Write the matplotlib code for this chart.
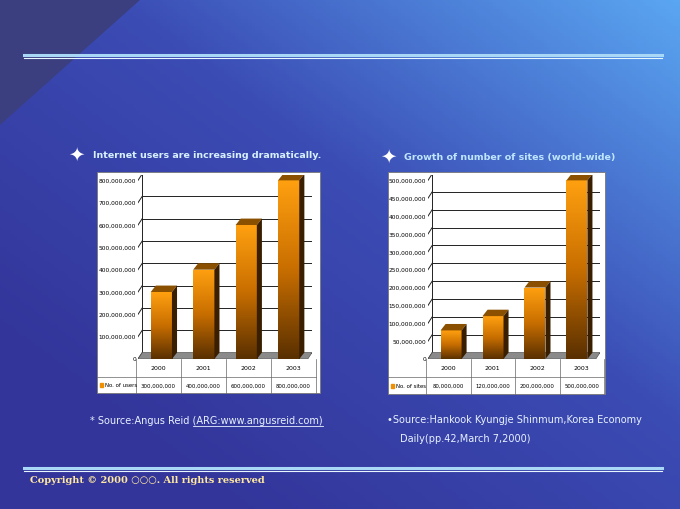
import numpy as np
import matplotlib.pyplot as plt
from matplotlib.patches import Polygon, Rectangle
from matplotlib.colors import LinearSegmentedColormap

years = ['2000', '2001', '2002', '2003']
users = [300000000, 400000000, 600000000, 800000000]
sites = [80000000, 120000000, 200000000, 500000000]
user_ticks = np.arange(0, 800000001, 100000000)
site_ticks = np.arange(0, 500000001, 50000000)

fig = plt.figure(figsize=(6.8, 5.1), dpi=100)
bg = fig.add_axes([0, 0, 1, 1])
bg.set_xlim(0, 680)
bg.set_ylim(510, 0)
bg.axis('off')

# background gradient: dark bottom-left -> light top-right
xx, yy = np.meshgrid(np.linspace(0, 1, 200), np.linspace(0, 1, 150))
t = np.clip(0.6 * xx + 0.6 * (1 - yy) - 0.2, 0, 1)
bg_cmap = LinearSegmentedColormap.from_list('bgc', ['#33359a', '#3b4cb4', '#5aa6f2'])
bg.imshow(t, cmap=bg_cmap, extent=[0, 680, 510, 0], aspect='auto', zorder=0)
bg.add_patch(Polygon([[0, 0], [140, 0], [0, 125]], color='#3b3f80', zorder=1))

# separator lines
for y in (56, 469):
    bg.plot([24, 662], [y, y], color='#a8d8f5', lw=2.2, zorder=2)
    bg.plot([24, 662], [y + 2.5, y + 2.5], color='#e8f6ff', lw=0.8, zorder=2)

bar_cmap = LinearSegmentedColormap.from_list('bar', ['#5a3000', '#c86e00', '#ffa010'])


def draw_chart(box, plot, vals, ticks, label, valtxt):
    bx0, by0, bx1, by1 = box
    bg.add_patch(Rectangle((bx0, by0), bx1 - bx0, by1 - by0, facecolor='white',
                           edgecolor='#777777', lw=0.6, zorder=3))
    px0, py0, px1, py1 = plot
    ax = fig.add_axes([px0 / 680, 1 - py1 / 510, (px1 - px0) / 680, (py1 - py0) / 510])
    ax.set_xlim(-0.55, 3.55)
    ymax = ticks[-1] * 1.03
    ax.axis('off')
    dx = 0.12
    dy = ymax * 0.035
    # floor
    ax.add_patch(Polygon([[-0.55, 0], [3.45, 0], [3.55, dy], [-0.45, dy]],
                         facecolor='#8a8a8a', edgecolor='#555555', lw=0.5, zorder=1))
    for v in ticks:
        ax.plot([-0.45, 3.55], [v + dy, v + dy], color='#222222', lw=0.7, zorder=0)
        ax.plot([-0.55, -0.45], [v, v + dy], color='#222222', lw=0.7, zorder=0)
        bg.text(px0 - 2, py1 - (py1 - py0) * v / ymax, f'{v:,}', fontsize=4.2,
                ha='right', va='center', zorder=4)
    ax.plot([-0.45, -0.45], [dy, ticks[-1] + dy], color='#222222', lw=0.7, zorder=0)
    w = 0.5
    grad = np.linspace(0, 1, 100).reshape(-1, 1)
    for i, v in enumerate(vals):
        x0 = i - w / 2
        im = ax.imshow(grad, cmap=bar_cmap, extent=[x0, x0 + w, 0, v],
                       origin='lower', aspect='auto', zorder=3)
        rect = Rectangle((x0, 0), w, v, transform=ax.transData)
        im.set_clip_path(rect)
        ax.add_patch(Polygon([[x0, v], [x0 + w, v], [x0 + w + dx, v + dy], [x0 + dx, v + dy]],
                             facecolor='#8a5000', edgecolor='none', zorder=3))
        ax.add_patch(Polygon([[x0 + w, 0], [x0 + w + dx, dy], [x0 + w + dx, v + dy], [x0 + w, v]],
                             facecolor='#3a1e00', edgecolor='none', zorder=3))
    ax.set_xlim(-0.55, 3.55)
    ax.set_ylim(0, ymax)
    # data table
    r0, r1 = py1, py1 + 18
    cols = np.linspace(px0 - 2, px1 + 4, 5)
    for c in cols:
        bg.plot([c, c], [r0, by1], color='#666666', lw=0.5, zorder=4)
    bg.plot([bx0, px1 + 4], [r1, r1], color='#666666', lw=0.5, zorder=4)
    for i in range(4):
        cx = (cols[i] + cols[i + 1]) / 2
        bg.text(cx, (r0 + r1) / 2, years[i], fontsize=4.5, ha='center', va='center', zorder=5)
        bg.text(cx, (r1 + by1) / 2, valtxt[i], fontsize=3.9, ha='center', va='center', zorder=5)
    bg.add_patch(Rectangle((bx0 + 3, (r1 + by1) / 2 - 2), 3, 4, color='#f09000', zorder=5))
    bg.text(bx0 + 8, (r1 + by1) / 2, label, fontsize=3.9, ha='left', va='center', zorder=5)


draw_chart((97, 173, 320, 394), (138, 176, 312, 360), users, user_ticks, 'No. of users',
           [f'{v:,}' for v in users])
draw_chart((388, 173, 605, 395), (428, 176, 600, 360), sites, site_ticks, 'No. of sites',
           [f'{v:,}' for v in sites])

bg.text(68, 155, '✦', fontsize=14, color='white', ha='left', va='center', zorder=5)
bg.text(93, 156, 'Internet users are increasing dramatically.', fontsize=6.8,
        color='#d8f0ff', fontweight='bold', ha='left', va='center', zorder=5)
bg.text(380, 157, '✦', fontsize=14, color='white', ha='left', va='center', zorder=5)
bg.text(404, 158, 'Growth of number of sites (world-wide)', fontsize=6.8,
        color='#bfe6ff', fontweight='bold', ha='left', va='center', zorder=5)

src = bg.text(90, 421, '* Source:Angus Reid (ARG:www.angusreid.com)', fontsize=7,
              color='#e8f2ff', ha='left', va='center', zorder=5)
pre = bg.text(90, 421, '* Source:Angus Reid (', fontsize=7, alpha=0, ha='left', va='center')
fig.canvas.draw()
inv = bg.transData.inverted()
e_all = src.get_window_extent()
e_pre = pre.get_window_extent()
ux0 = inv.transform((e_pre.x1, 0))[0]
ux1 = inv.transform((e_all.x1, 0))[0]
bg.plot([ux0 - 3, ux1], [427, 427], color='#e8f2ff', lw=0.6, zorder=5)

bg.text(387, 420, '•Source:Hankook Kyungje Shinmum,Korea Economy', fontsize=7,
        color='#e8f2ff', ha='left', va='center', zorder=5)
bg.text(400, 439, 'Daily(pp.42,March 7,2000)', fontsize=7, color='#e8f2ff',
        ha='left', va='center', zorder=5)

bg.text(30, 481, 'Copyright © 2000 ○○○. All rights reserved', fontsize=7,
        color='#ffe9a0', fontweight='bold', family=['DejaVu Serif', 'DejaVu Sans'],
        ha='left', va='center', zorder=5)

fig.savefig('out.png', dpi=100)
